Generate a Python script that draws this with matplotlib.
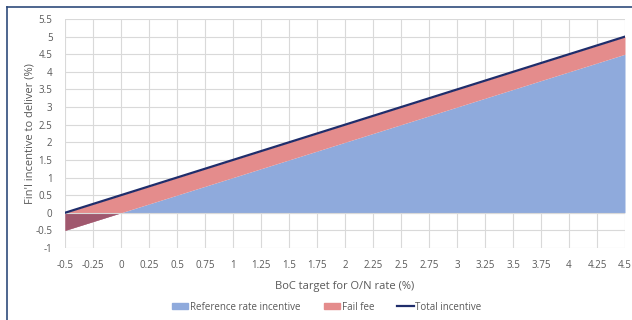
import numpy as np
import matplotlib
matplotlib.use('Agg')
import matplotlib.pyplot as plt
from matplotlib.patches import Patch
from matplotlib.lines import Line2D

# data
boc_rate = [-0.5, -0.25, 0, 0.25, 0.5, 0.75, 1, 1.25, 1.5, 1.75, 2, 2.25,
            2.5, 2.75, 3, 3.25, 3.5, 3.75, 4, 4.25, 4.5]
ref_incentive = [-0.5, -0.25, 0, 0.25, 0.5, 0.75, 1, 1.25, 1.5, 1.75, 2, 2.25,
                 2.5, 2.75, 3, 3.25, 3.5, 3.75, 4, 4.25, 4.5]
fail_fee = [0.5] * 21
tick_labels = ['-0.5', '-0.25', '0', '0.25', '0.5', '0.75', '1', '1.25', '1.5',
               '1.75', '2', '2.25', '2.5', '2.75', '3', '3.25', '3.5', '3.75',
               '4', '4.25', '4.5']
y_ticks = [-1, -0.5, 0, 0.5, 1, 1.5, 2, 2.5, 3, 3.5, 4, 4.5, 5, 5.5]

BLUE = '#8FAADC'
RED = '#E48C8C'
DARK = '#A0586E'
NAVY = '#1F2D6B'
GRID = '#D9D9D9'
TXT = '#595959'

plt.rcParams['font.family'] = ['Open Sans', 'DejaVu Sans']

x = np.array(boc_rate)
ref = np.array(ref_incentive)
fee = np.array(fail_fee)
total = ref + fee

fig = plt.figure(figsize=(6.32, 3.2), dpi=100)
ax = fig.add_axes([65/632, 72/320, 560/632, 229/320])

ax.fill_between(x, 0, ref, color=BLUE, linewidth=0, zorder=2)
ax.fill_between(x, ref, total, color=RED, linewidth=0, zorder=2)
# overlap of the negative reference rate with the fail fee
ax.fill_between(x, np.minimum(ref, 0), 0, color=DARK, linewidth=0, zorder=3)
ax.axhline(0, color=GRID, lw=0.8, zorder=4)
ax.plot(x, total, color=NAVY, lw=1.6, zorder=5)

ax.set_xlim(-0.5, 4.5)
ax.set_ylim(-1, 5.5)
ax.set_xticks(x, tick_labels)
ax.set_yticks(y_ticks, [f'{v:g}' for v in y_ticks])
ax.grid(True, color=GRID, lw=0.8, zorder=1)
ax.set_axisbelow(True)
for s in ax.spines.values():
    s.set_visible(False)
ax.tick_params(length=0, labelsize=7, colors=TXT)
ax.tick_params(axis='x', pad=9)
ax.tick_params(axis='y', pad=9)
ax.set_xlabel('BoC target for O/N rate (%)', fontsize=8, color=TXT, labelpad=7)
ax.set_ylabel("Fin'l incentive to deliver (%)", fontsize=8, color=TXT, labelpad=0)

handles = [Patch(color=BLUE, label='Reference rate incentive'),
           Patch(color=RED, label='Fail fee'),
           Line2D([], [], color=NAVY, lw=1.6, label='Total incentive')]
fig.legend(handles=handles, loc='center', bbox_to_anchor=(0.517, 13/320), ncol=3,
           frameon=False, fontsize=7, labelcolor=TXT, handlelength=1.7,
           handleheight=0.6, handletextpad=0.15, columnspacing=2.4)

# outer frame (top and left edges visible)
fig.add_artist(Line2D([7/632, 1], [1 - 7/320, 1 - 7/320], color='#2F4B7C', lw=1.2))
fig.add_artist(Line2D([7/632, 7/632], [0, 1 - 7/320], color='#2F4B7C', lw=1.2))

fig.savefig('out.png', dpi=100, facecolor='white')
